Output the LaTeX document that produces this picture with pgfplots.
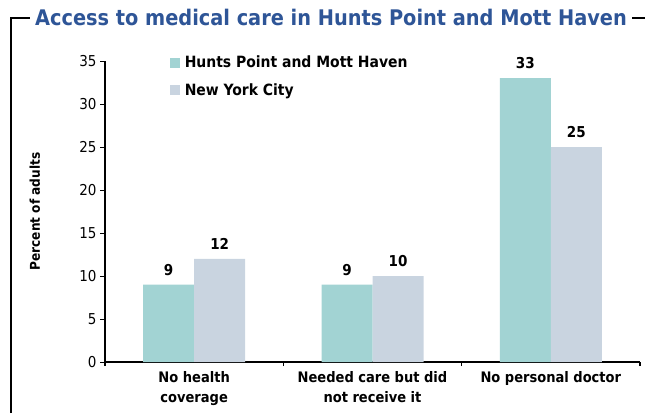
\documentclass[border=0pt]{standalone}
\usepackage{fontspec}
\setmainfont{DejaVu Sans Condensed}
\usepackage{pgfplots}
\pgfplotsset{compat=1.18}
\definecolor{tealbar}{HTML}{A2D3D3}
\definecolor{graybar}{HTML}{C9D4E0}
\definecolor{titleblue}{HTML}{2E5597}
\begin{document}
\begin{tikzpicture}[x=1pt,y=1pt]
\useasboundingbox (0,0) rectangle (647,413);
\draw[line width=2.5pt] (11,0) -- (11,395) -- (30,395);
\draw[line width=2.5pt] (632,395) -- (645,395);
\node[font=\fontsize{21.5}{24}\selectfont\bfseries, text=titleblue] at (331,396) {Access to medical care in Hunts Point and Mott Haven};
\begin{axis}[
  at={(105pt,51pt)}, anchor=south west,
  scale only axis, width=535pt, height=301pt,
  xmin=0, xmax=3, ymin=0, ymax=35,
  /pgf/number format/assume math mode=true,
  axis x line*=bottom, axis y line*=left,
  x axis line style={line width=2.5pt,-},
  y axis line style={line width=1.3pt,-},
  ytick={0,5,...,35},
  xtick={0.5,1.5,2.5},
  xticklabels={{No health\\coverage},{Needed care but did\\not receive it},{No personal doctor}},
  xticklabel style={align=center, font=\fontsize{14.5}{19.5}\selectfont\bfseries, yshift=-1pt},
  yticklabel style={font=\fontsize{15}{17}\selectfont},
  major x tick style={draw=none},
  minor xtick={0,1,2,3},
  minor x tick style={line width=1.3pt, black},
  minor tick length=4pt,
  major tick length=5pt,
  tick align=outside,
  y tick style={line width=1pt, black},
  ylabel={Percent of adults},
  ylabel style={at={(axis description cs:-0.131,0.5)}, anchor=center, font=\fontsize{13.5}{15}\selectfont\bfseries},
  ybar=0pt, bar width=51pt,
  nodes near coords,
  every node near coord/.append style={font=\fontsize{15}{17}\selectfont\bfseries, black, yshift=5.5pt},
  legend style={at={(axis description cs:0.116,1.03)}, anchor=north west, draw=none, fill=none,
    font=\fontsize{15.5}{18}\selectfont\bfseries, row sep=10pt, nodes={inner xsep=5pt}},
  legend cell align=left,
  legend image code/.code={\fill[#1, draw=none] (0pt,-4.7pt) rectangle (9.5pt,4.7pt);},
]
\addplot[fill=tealbar, draw=none] coordinates {(0.5,9) (1.5,9) (2.5,33)};
\addplot[fill=graybar, draw=none] coordinates {(0.5,12) (1.5,10) (2.5,25)};
\legend{Hunts Point and Mott Haven, New York City}
\end{axis}
\end{tikzpicture}
\end{document}
